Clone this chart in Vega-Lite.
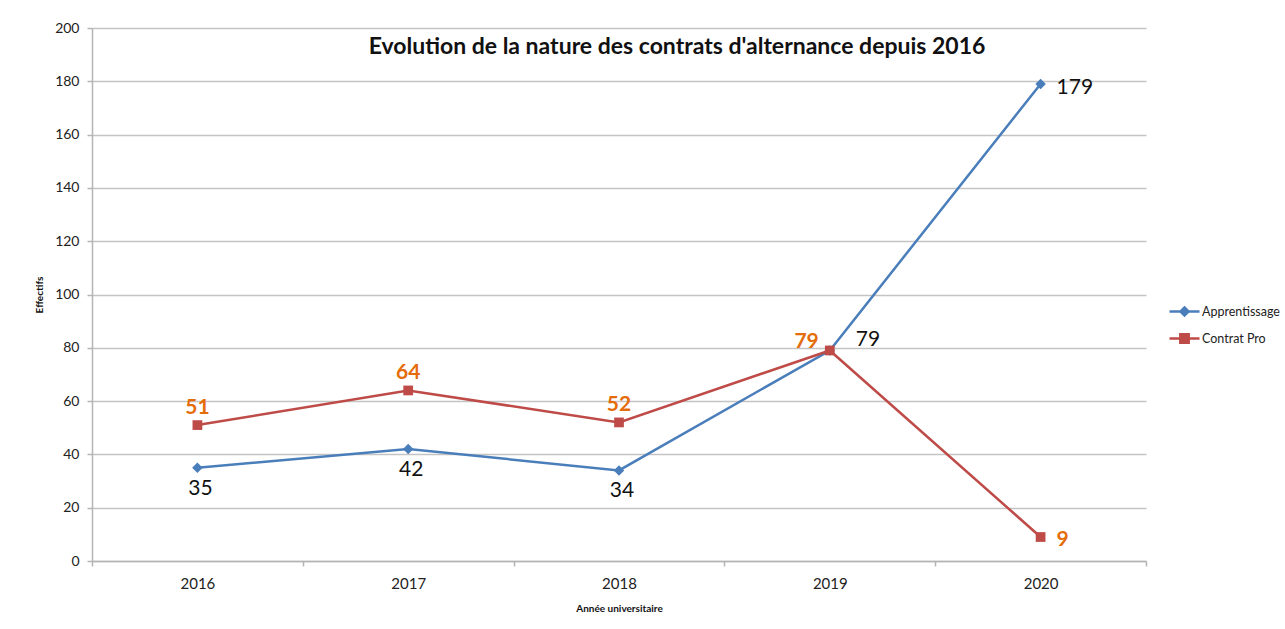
{
  "$schema": "https://vega.github.io/schema/vega-lite/v6.json",
  "width": 1054,
  "height": 533,
  "autosize": {"type": "none"},
  "padding": {"left": 92, "top": 28, "right": 139, "bottom": 68},
  "background": "white",
  "config": {
    "font": "Lato",
    "view": {"stroke": null},
    "axis": {"labelColor": "#222", "titleColor": "#111", "domainColor": "#b4b4b4", "tickColor": "#b4b4b4", "gridColor": "#c4c4c4", "domainWidth": 1.5, "tickWidth": 1.5, "gridWidth": 1.5}
  },
  "title": {
    "text": "Evolution de la nature des contrats d'alternance depuis 2016",
    "fontSize": 23,
    "fontWeight": "bold",
    "color": "#111",
    "anchor": "middle",
    "frame": "group",
    "dx": 58,
    "offset": -38
  },
  "data": {
    "values": [
      {"annee": "2016", "type": "Apprentissage", "effectif": 35},
      {"annee": "2017", "type": "Apprentissage", "effectif": 42},
      {"annee": "2018", "type": "Apprentissage", "effectif": 34},
      {"annee": "2019", "type": "Apprentissage", "effectif": 79},
      {"annee": "2020", "type": "Apprentissage", "effectif": 179},
      {"annee": "2016", "type": "Contrat Pro", "effectif": 51},
      {"annee": "2017", "type": "Contrat Pro", "effectif": 64},
      {"annee": "2018", "type": "Contrat Pro", "effectif": 52},
      {"annee": "2019", "type": "Contrat Pro", "effectif": 79},
      {"annee": "2020", "type": "Contrat Pro", "effectif": 9}
    ]
  },
  "encoding": {
    "x": {
      "field": "annee", "type": "ordinal",
      "scale": {"type": "band", "paddingInner": 0, "paddingOuter": 0},
      "axis": {"title": "Année universitaire", "titleFontSize": 10, "titleFontWeight": "bold", "titlePadding": 12, "labelAngle": 0, "labelFontSize": 15, "labelPadding": 10, "tickSize": 5, "tickBand": "extent", "grid": false}
    },
    "y": {
      "field": "effectif", "type": "quantitative",
      "scale": {"domain": [0, 200], "nice": false},
      "axis": {"title": "Effectifs", "titleFontSize": 10, "titleFontWeight": "bold", "titlePadding": 10, "values": [0, 20, 40, 60, 80, 100, 120, 140, 160, 180, 200], "labelFontSize": 14, "labelPadding": 8, "tickSize": 5, "grid": true}
    }
  },
  "layer": [
    {
      "mark": {"type": "line", "strokeWidth": 2.5},
      "encoding": {
        "color": {
          "field": "type", "type": "nominal",
          "scale": {"domain": ["Apprentissage", "Contrat Pro"], "range": ["#4A7EBB", "#BE4B48"]},
          "legend": {
            "title": null, "orient": "none", "legendX": 1076, "legendY": 267,
            "labelFontSize": 12.5, "labelColor": "#222", "labelOffset": 1,
            "symbolSize": 900, "rowPadding": 1,
            "encode": {
              "symbols": {
                "update": {
                  "shape": {"signal": "datum.value === 'Apprentissage' ? 'M-1,0H1M0,-0.27L0.27,0L0,0.27L-0.27,0Z' : 'M-1,0H1M-0.28,-0.28H0.28V0.28H-0.28Z'"},
                  "fill": {"scale": "color", "field": "value"},
                  "stroke": {"scale": "color", "field": "value"},
                  "strokeWidth": {"value": 2.5},
                  "opacity": {"value": 1}
                }
              }
            }
          }
        }
      }
    },
    {
      "transform": [{"filter": "datum.type === 'Apprentissage'"}],
      "mark": {"type": "point", "shape": "diamond", "filled": true, "opacity": 1, "size": 110, "color": "#4A7EBB"}
    },
    {
      "transform": [{"filter": "datum.type === 'Contrat Pro'"}],
      "mark": {"type": "point", "shape": "square", "filled": true, "opacity": 1, "size": 95, "color": "#BE4B48"}
    },
    {
      "transform": [{"filter": "datum.type === 'Apprentissage' && toNumber(datum.annee) <= 2018"}],
      "mark": {"type": "text", "fontSize": 21, "color": "#111", "dy": 21, "dx": 3},
      "encoding": {"text": {"field": "effectif"}}
    },
    {
      "transform": [{"filter": "datum.type === 'Apprentissage' && datum.annee === '2019'"}],
      "mark": {"type": "text", "fontSize": 21, "color": "#111", "align": "left", "dx": 26, "dy": -10},
      "encoding": {"text": {"field": "effectif"}}
    },
    {
      "transform": [{"filter": "datum.type === 'Apprentissage' && datum.annee === '2020'"}],
      "mark": {"type": "text", "fontSize": 21, "color": "#111", "align": "left", "dx": 16, "dy": 4},
      "encoding": {"text": {"field": "effectif"}}
    },
    {
      "transform": [{"filter": "datum.type === 'Contrat Pro' && toNumber(datum.annee) <= 2018"}],
      "mark": {"type": "text", "fontSize": 21, "fontWeight": "bold", "color": "#E46C0A", "dy": -17},
      "encoding": {"text": {"field": "effectif"}}
    },
    {
      "transform": [{"filter": "datum.type === 'Contrat Pro' && datum.annee === '2019'"}],
      "mark": {"type": "text", "fontSize": 21, "fontWeight": "bold", "color": "#E46C0A", "align": "right", "dx": -11, "dy": -8},
      "encoding": {"text": {"field": "effectif"}}
    },
    {
      "transform": [{"filter": "datum.type === 'Contrat Pro' && datum.annee === '2020'"}],
      "mark": {"type": "text", "fontSize": 21, "fontWeight": "bold", "color": "#E46C0A", "align": "left", "dx": 16, "dy": 3},
      "encoding": {"text": {"field": "effectif"}}
    }
  ]
}
